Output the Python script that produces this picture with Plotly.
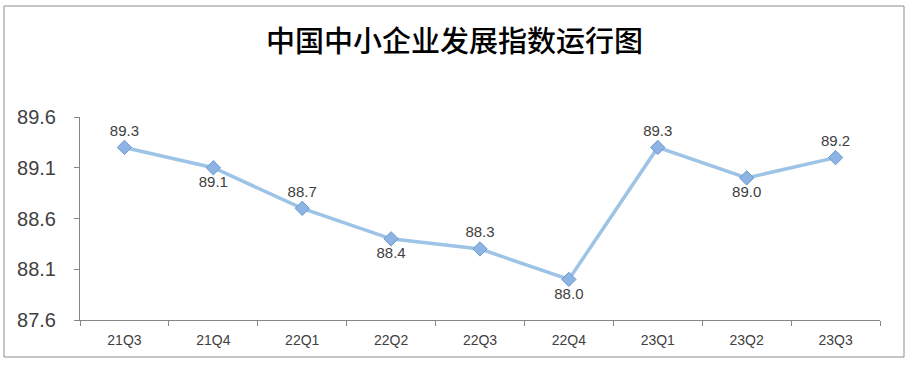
import plotly.graph_objects as go

categories = ["21Q3", "21Q4", "22Q1", "22Q2", "22Q3", "22Q4", "23Q1", "23Q2", "23Q3"]
index_values = [89.3, 89.1, 88.7, 88.4, 88.3, 88.0, 89.3, 89.0, 89.2]
y_ticks = [87.6, 88.1, 88.6, 89.1, 89.6]
label_positions = ["top center", "bottom center", "top center", "bottom center", "top center",
                   "bottom center", "top center", "bottom center", "top center"]
title_text = "中国中小企业发展指数运行图"

W, H = 914, 366
L, R, T, B = 80, 880, 117, 320

fig = go.Figure()
fig.add_trace(go.Scatter(
    x=categories, y=index_values,
    mode="lines+markers+text",
    line=dict(color="#9DC3E6", width=3.5),
    marker=dict(symbol="diamond", size=11, color="#8DB4E2",
                line=dict(color="#6A98D0", width=1)),
    text=[f"{v:.1f}" for v in index_values],
    textposition=label_positions,
    textfont=dict(family="Liberation Sans, Arial", size=15, color="#404040"),
    cliponaxis=False,
    showlegend=False,
))

pw, ph = R - L, B - T
fig.add_shape(type="rect", xref="paper", yref="paper",
              x0=(4 - L) / pw, x1=(904 - L) / pw,
              y0=(B - 357) / ph, y1=(B - 6) / ph,
              line=dict(color="#8C8C8C", width=1), fillcolor="rgba(0,0,0,0)", layer="below")

fig.add_annotation(text=title_text, xref="paper", yref="paper",
                   x=(454.5 - L) / pw, y=(B - 38.5) / ph,
                   xanchor="center", yanchor="middle", showarrow=False,
                   font=dict(family="Noto Sans CJK SC", size=29, color="#000000", weight=500))

fig.update_layout(
    width=W, height=H,
    margin=dict(l=L, r=W - R, t=T, b=H - B, pad=0),
    paper_bgcolor="white", plot_bgcolor="white",
    font=dict(family="Liberation Sans, Arial", color="#404040"),
)
fig.update_xaxes(
    type="category", range=[-0.5, 8.5], tickson="boundaries",
    showline=True, linecolor="#868686", linewidth=1,
    ticks="outside", ticklen=5, tickcolor="#868686",
    showgrid=False, zeroline=False,
    tickfont=dict(size=14, color="#404040"),
    ticklabelstandoff=7,
)
fig.update_yaxes(
    range=[87.6, 89.6], tickvals=y_ticks, ticktext=[f"{v:.1f}" for v in y_ticks],
    showline=True, linecolor="#868686", linewidth=1,
    ticks="outside", ticklen=5, tickcolor="#868686",
    showgrid=False, zeroline=False,
    tickfont=dict(size=20, color="#404040"),
    ticklabelstandoff=14,
)

fig.write_html("out.html", config={"displayModeBar": False},
               post_script="document.body.style.margin='0';document.body.style.overflow='hidden';")
